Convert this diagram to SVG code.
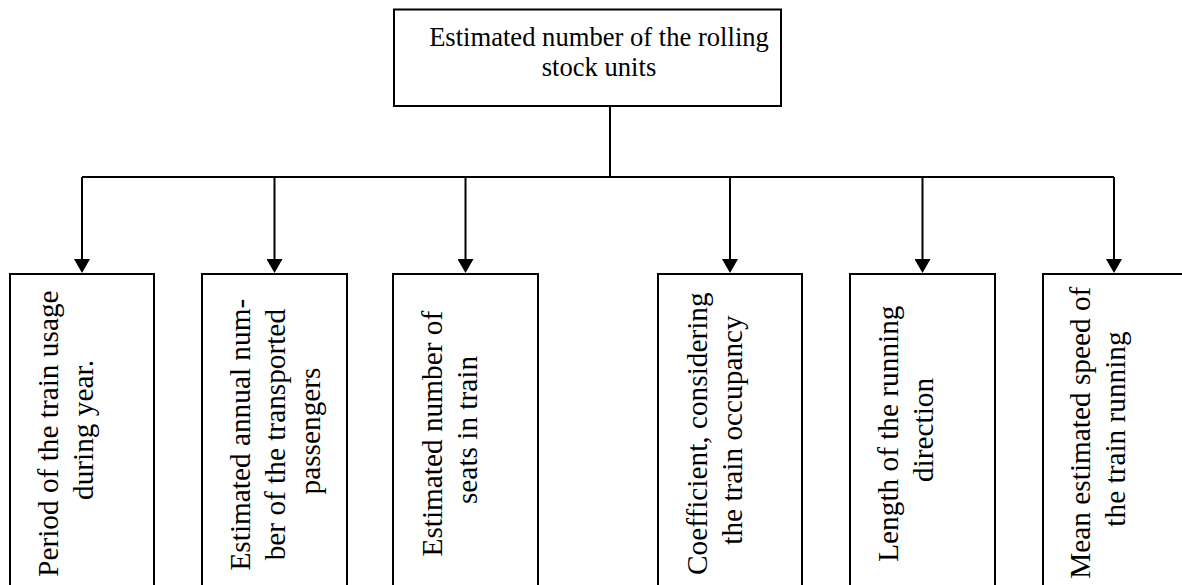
<svg xmlns="http://www.w3.org/2000/svg" width="1182" height="585" viewBox="0 0 1182 585">
<style>
.box{fill:#fff;stroke:#000;stroke-width:2}
.t{fill:#000;text-anchor:middle}
.top{font-size:26.6px}
.v{font-size:29.3px}
.c{fill:none;stroke:#000;stroke-width:2}
</style>
<defs>
<marker id="ah" markerUnits="userSpaceOnUse" markerWidth="14" markerHeight="16" viewBox="0 0 14 16" refX="3" refY="8" orient="auto">
<path d="M0,0 L14,8 L0,16 z" fill="#000"/>
</marker>
</defs>
<rect width="1182" height="585" fill="#fff"/>
<g id="connectors">
<path class="c" d="M610,106 V177 M82,177 H1114"/>
<path class="c" d="M82,177 V262" marker-end="url(#ah)"/>
<path class="c" d="M274.5,177 V262" marker-end="url(#ah)"/>
<path class="c" d="M465.5,177 V262" marker-end="url(#ah)"/>
<path class="c" d="M730,177 V262" marker-end="url(#ah)"/>
<path class="c" d="M922.5,177 V262" marker-end="url(#ah)"/>
<path class="c" d="M1114,177 V262" marker-end="url(#ah)"/>
</g>
<g font-family="Liberation Serif, Times New Roman, serif">
<g id="root">
<rect class="box" x="394" y="9.5" width="387" height="96.5"/>
<text class="t top" x="599" y="45.5">Estimated number of the rolling</text>
<text class="t top" x="599" y="75.5">stock units</text>
</g>
<g id="n1">
<rect class="box" x="10" y="274" width="144" height="330"/>
<text class="t v" transform="translate(58,430) rotate(-90)">
<tspan x="0" y="0">Period of the train usage</tspan>
<tspan x="0" y="35">during year.</tspan>
</text>
</g>
<g id="n2">
<rect class="box" x="202" y="274" width="145" height="330"/>
<text class="t v" transform="translate(250,431) rotate(-90)">
<tspan x="0" y="0">Estimated annual num-</tspan>
<tspan x="0" y="35">ber of the transported</tspan>
<tspan x="0" y="70">passengers</tspan>
</text>
</g>
<g id="n3">
<rect class="box" x="393" y="274" width="145" height="330"/>
<text class="t v" transform="translate(442,430) rotate(-90)">
<tspan x="0" y="0">Estimated number of</tspan>
<tspan x="0" y="35">seats in train</tspan>
</text>
</g>
<g id="n4">
<rect class="box" x="658" y="274" width="144" height="330"/>
<text class="t v" transform="translate(707,430) rotate(-90)">
<tspan x="0" y="0">Coefficient, considering</tspan>
<tspan x="0" y="35">the train occupancy</tspan>
</text>
</g>
<g id="n5">
<rect class="box" x="850" y="274" width="145" height="330"/>
<text class="t v" transform="translate(898,430) rotate(-90)">
<tspan x="0" y="0">Length of the running</tspan>
<tspan x="0" y="35">direction</tspan>
</text>
</g>
<g id="n6">
<rect class="box" x="1043" y="274" width="145" height="330"/>
<text class="t v" transform="translate(1090,429) rotate(-90)">
<tspan x="0" y="0">Mean estimated speed of</tspan>
<tspan x="0" y="35">the train running</tspan>
</text>
</g>
</g>
</svg>
